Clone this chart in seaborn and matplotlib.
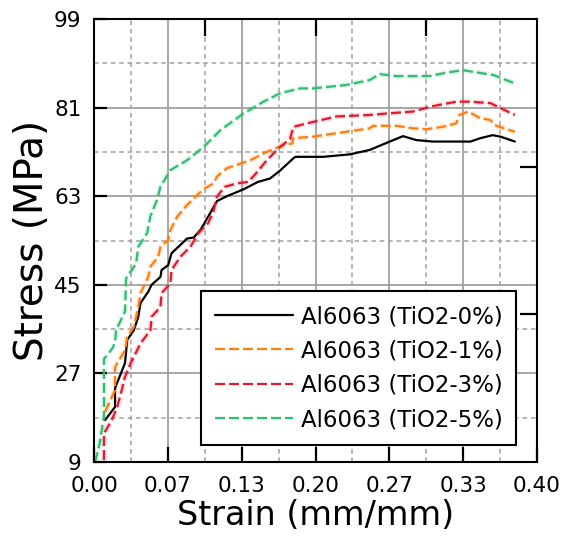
import matplotlib
matplotlib.use("Agg")
import matplotlib.pyplot as plt
import matplotlib.patheffects as pe
import numpy as np
import pandas as pd
import seaborn as sns

# strain (mm/mm) / stress (MPa)
strain_0 = [0.010, 0.019, 0.019, 0.028, 0.030, 0.036, 0.040, 0.042, 0.049, 0.052, 0.060, 0.061,
            0.067, 0.070, 0.078, 0.084, 0.090, 0.096, 0.105, 0.111, 0.120, 0.135, 0.148, 0.159,
            0.168, 0.180, 0.182, 0.207, 0.231, 0.249, 0.267, 0.279, 0.291, 0.306, 0.340, 0.349,
            0.360, 0.367, 0.380]
stress_0 = [17.5, 20.2, 24.0, 29.1, 33.8, 35.8, 38.5, 41.3, 43.6, 45.0, 46.6, 48.0,
            49.0, 51.4, 53.1, 54.4, 54.6, 56.1, 59.6, 62.0, 63.0, 64.4, 65.9, 66.6,
            68.2, 70.7, 71.0, 71.0, 71.5, 72.4, 74.1, 75.2, 74.4, 74.1, 74.1, 74.8,
            75.4, 75.1, 74.1]

strain_1 = [0.010, 0.019, 0.019, 0.028, 0.030, 0.036, 0.040, 0.042, 0.049, 0.051, 0.058, 0.060,
            0.067, 0.069, 0.075, 0.084, 0.093, 0.100, 0.108, 0.111, 0.120, 0.141, 0.156, 0.171,
            0.179, 0.180, 0.198, 0.228, 0.249, 0.252, 0.273, 0.288, 0.300, 0.315, 0.327, 0.330,
            0.338, 0.349, 0.358, 0.361, 0.370, 0.380]
stress_1 = [19.2, 23.6, 28.3, 31.7, 34.4, 36.5, 40.5, 43.3, 46.6, 48.7, 50.7, 52.7,
            54.1, 56.1, 58.8, 61.2, 63.2, 64.6, 65.6, 67.0, 68.7, 70.3, 72.0, 73.4,
            73.7, 74.8, 75.1, 76.1, 76.8, 77.3, 77.3, 76.8, 76.6, 77.1, 77.8, 79.5,
            80.2, 78.8, 78.5, 77.5, 76.8, 76.1]

strain_3 = [0.009, 0.009, 0.016, 0.021, 0.025, 0.028, 0.033, 0.042, 0.051, 0.052, 0.060, 0.061,
            0.069, 0.070, 0.078, 0.087, 0.094, 0.103, 0.108, 0.111, 0.118, 0.129, 0.139, 0.145,
            0.156, 0.168, 0.177, 0.180, 0.198, 0.219, 0.249, 0.264, 0.288, 0.306, 0.327, 0.340,
            0.358, 0.367, 0.380]
stress_3 = [9.4, 14.8, 17.5, 20.2, 23.6, 26.3, 29.0, 33.1, 35.8, 38.5, 40.5, 43.3,
            45.3, 48.0, 50.7, 52.7, 55.4, 57.5, 60.0, 62.9, 64.9, 65.6, 65.9, 67.3,
            70.3, 73.0, 74.6, 77.1, 78.1, 79.2, 79.5, 79.8, 80.2, 81.3, 82.2, 82.2,
            81.9, 80.9, 79.5]

strain_5 = [0.001, 0.005, 0.009, 0.009, 0.017, 0.019, 0.020, 0.028, 0.029, 0.038, 0.040, 0.048,
            0.051, 0.057, 0.060, 0.069, 0.084, 0.099, 0.114, 0.135, 0.153, 0.168, 0.186, 0.198,
            0.228, 0.249, 0.258, 0.273, 0.303, 0.318, 0.333, 0.361, 0.380]
stress_5 = [9.0, 12.7, 18.2, 29.9, 32.2, 33.5, 35.8, 39.6, 46.3, 49.3, 52.7, 55.5,
            59.0, 62.3, 64.9, 68.3, 70.3, 73.0, 76.4, 79.8, 82.2, 83.9, 84.9, 84.9,
            85.6, 86.6, 87.8, 87.4, 87.4, 88.1, 88.6, 87.6, 85.9]

labels = ["Al6063 (TiO2-0%)", "Al6063 (TiO2-1%)", "Al6063 (TiO2-3%)", "Al6063 (TiO2-5%)"]
colors = ["#000000", "#ff7f0e", "#e41a2c", "#2dbf6e"]

x_ticks = [0.0, 0.4 / 6, 0.4 / 3, 0.2, 0.8 / 3, 1.0 / 3, 0.4]
x_ticklabels = ["0.00", "0.07", "0.13", "0.20", "0.27", "0.33", "0.40"]
y_ticks = [9, 27, 45, 63, 81, 99]
top_ticks = [0.1, 0.2, 0.3]
right_ticks = [39, 69]

frames = []
for lab, xs, ys in zip(labels, [strain_0, strain_1, strain_3, strain_5],
                       [stress_0, stress_1, stress_3, stress_5]):
    frames.append(pd.DataFrame({"strain": xs, "stress": ys, "alloy": lab}))
df = pd.concat(frames, ignore_index=True)

sns.set_style("white")
plt.rcParams["font.family"] = ["DejaVu Sans"]
plt.rcParams["text.color"] = "black"
plt.rcParams["axes.labelcolor"] = "black"

fig = plt.figure(figsize=(5.65, 5.47), dpi=100)
ax = fig.add_axes([94 / 565, (547 - 462) / 547, 443 / 565, 443 / 547])

palette = dict(zip(labels, colors))
dashes = {labels[0]: "", labels[1]: (4.5, 1.8), labels[2]: (4.5, 1.8), labels[3]: (4.5, 1.8)}
sns.lineplot(data=df, x="strain", y="stress", hue="alloy", style="alloy", palette=palette,
             dashes=dashes, sort=False, estimator=None, linewidth=1.6, ax=ax, legend=True)

for line, c in zip(ax.lines, colors):
    if c != "#000000":
        line.set_path_effects([pe.Stroke(linewidth=4, foreground=c, alpha=0.15), pe.Normal()])

ax.set_xlim(0, 0.4)
ax.set_ylim(9, 99)
ax.set_xticks(x_ticks)
ax.set_xticklabels(x_ticklabels)
ax.set_yticks(y_ticks)
ax.set_xticks([0.4 / 12 * k for k in range(1, 12, 2)], minor=True)
ax.set_yticks([18, 36, 54, 72, 90], minor=True)

ax.grid(True, which="major", color="#a0a0a0", linewidth=1.3, linestyle="-")
ax.grid(True, which="minor", color="#a0a0a0", linewidth=1.1, linestyle=(0, (3, 2.5)))
ax.set_axisbelow(True)

ax.tick_params(axis="both", which="major", direction="in", width=1.6,
               labelsize=15.5, color="black", labelcolor="black",
               left=True, bottom=True, top=False, right=False)
ax.tick_params(axis="x", which="major", length=11, pad=10)
ax.tick_params(axis="y", which="major", length=9.5, pad=9)
ax.tick_params(axis="both", which="minor", length=0)

for s in ax.spines.values():
    s.set_color("black")
    s.set_linewidth(1.5)

# extra inward ticks on the top and right edges
tx = ax.twiny()
tx.set_xlim(ax.get_xlim())
tx.set_xticks(top_ticks)
tx.tick_params(axis="x", direction="in", length=12.5, width=1.6, color="black",
               top=True, bottom=False, labeltop=False)
ty = ax.twinx()
ty.set_ylim(ax.get_ylim())
ty.set_yticks(right_ticks)
ty.tick_params(axis="y", direction="in", length=12, width=1.6, color="black",
               right=True, left=False, labelright=False)
for t in (tx, ty):
    for s in t.spines.values():
        s.set_visible(False)
    t.grid(False)

ax.set_xlabel("Strain (mm/mm)", fontsize=24, labelpad=2)
ax.set_ylabel("Stress (MPa)", fontsize=28, labelpad=2)

handles, labs = ax.get_legend_handles_labels()
leg = ax.legend(handles, labs, loc="lower right", bbox_to_anchor=(0.953, 0.038),
                borderaxespad=0, fontsize=16.5, frameon=True, fancybox=False,
                edgecolor="black", framealpha=1, handlelength=3.4, handletextpad=0.35,
                labelspacing=0.5, borderpad=0.6)
leg.get_frame().set_linewidth(1.5)
leg.set_zorder(10)

fig.savefig("out.png", dpi=100)
